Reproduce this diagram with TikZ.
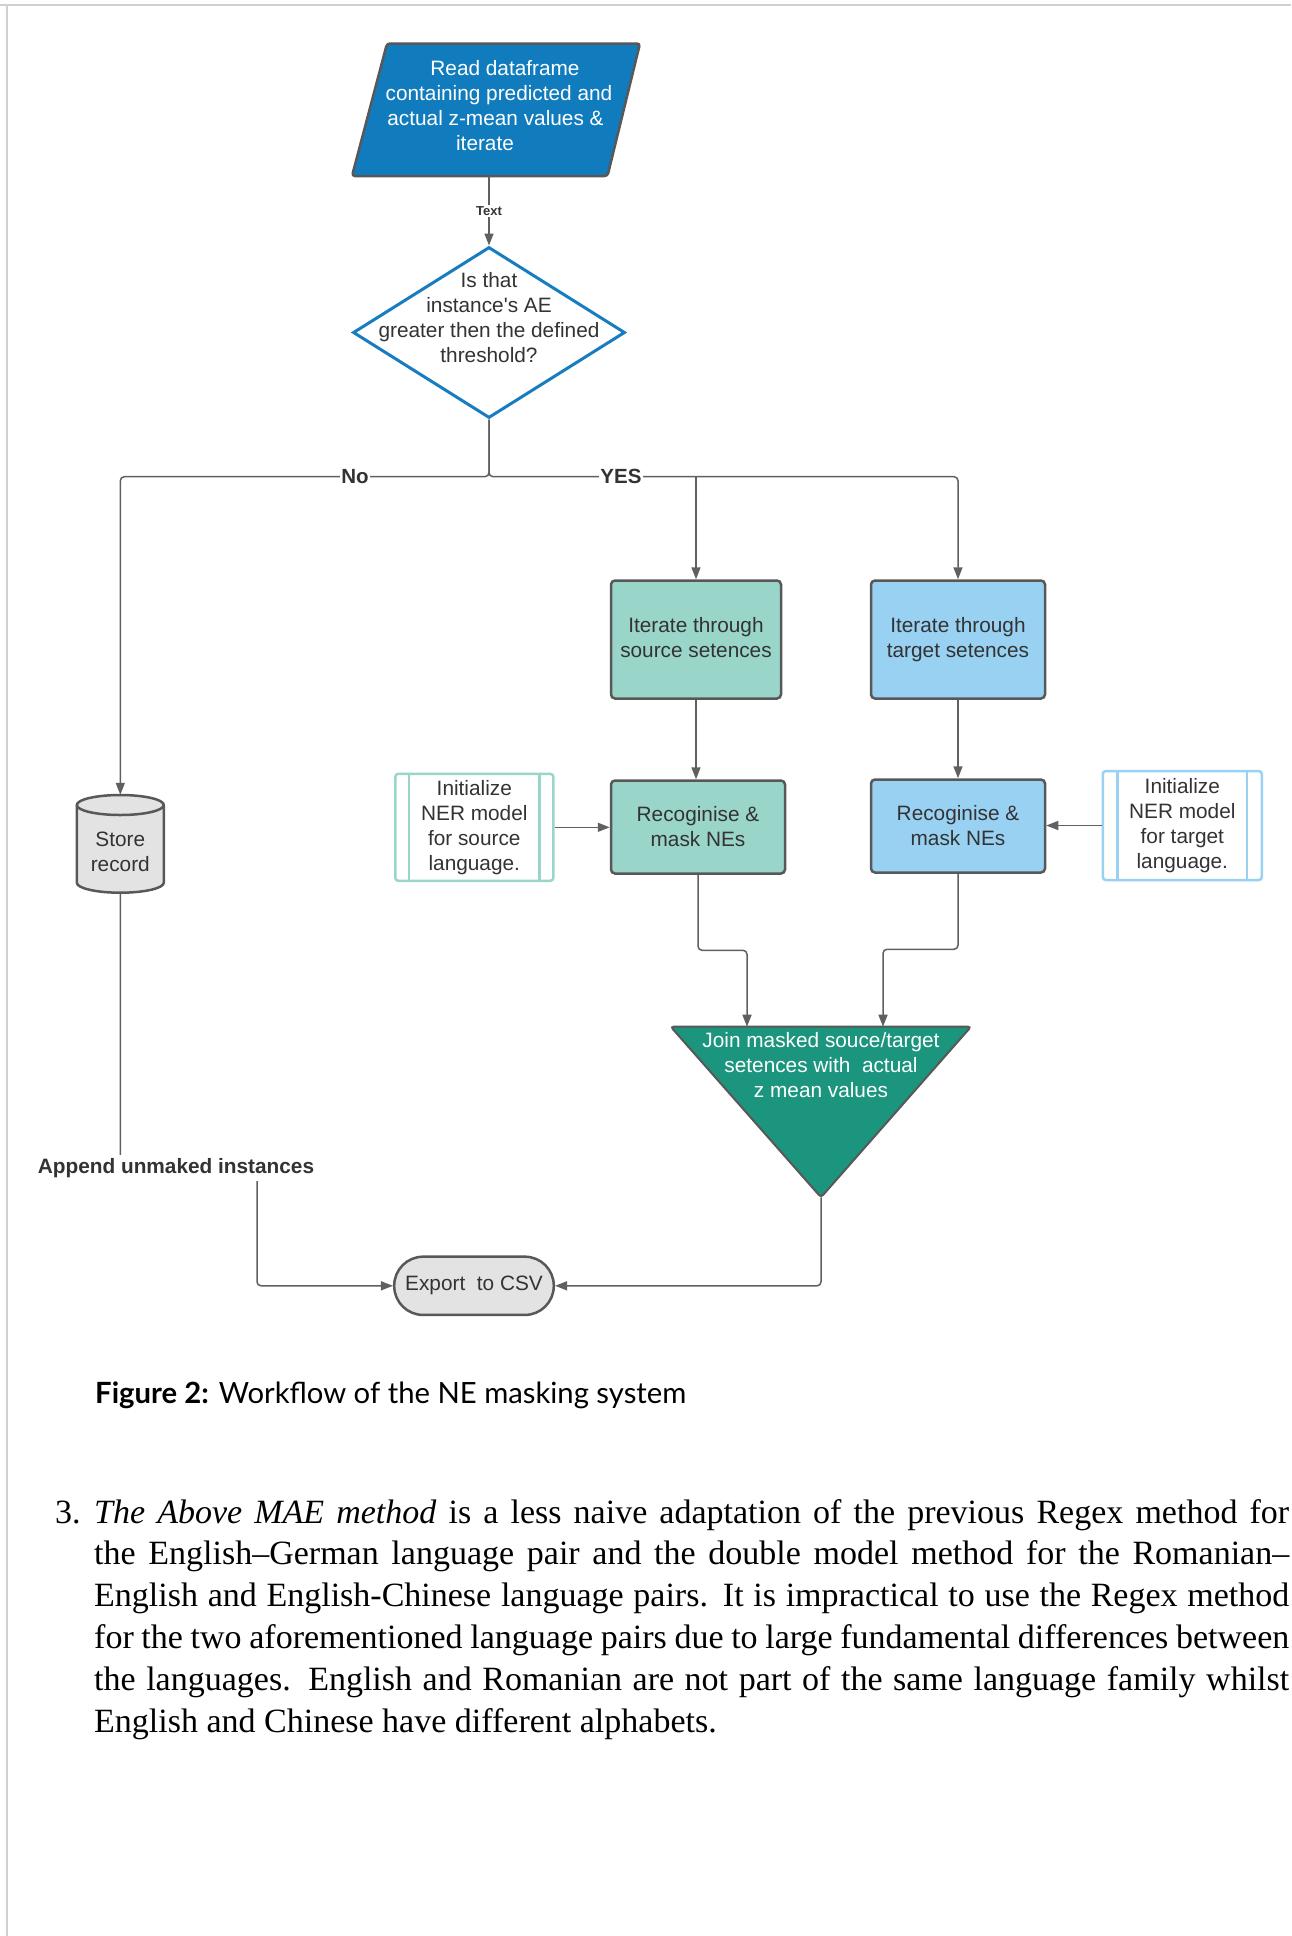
\documentclass[tikz,border=0pt]{standalone}
\usepackage{fontspec}
\usetikzlibrary{arrows.meta,shapes.geometric,calc}
\newfontfamily\diagfont{Liberation Sans}
\newfontfamily\bodyfont{Liberation Serif}
\newfontfamily\capfont{Lato}
\definecolor{readblue}{RGB}{16,124,190}
\definecolor{diablue}{RGB}{24,125,192}
\definecolor{tealL}{RGB}{154,213,202}
\definecolor{blueL}{RGB}{153,209,242}
\definecolor{joinTeal}{RGB}{27,149,125}
\definecolor{lgray}{RGB}{227,227,227}
\definecolor{bgray}{RGB}{88,88,88}
\definecolor{cgray}{RGB}{96,96,96}
\definecolor{txtgray}{RGB}{51,51,51}
\definecolor{pagegray}{RGB}{208,208,208}
\begin{document}
\begin{tikzpicture}[x=1pt,y=1pt,
  txt/.style={font=\diagfont\fontsize{20.8}{25}\selectfont, text=txtgray, align=center, inner sep=2pt},
  boxnode/.style={txt, draw=bgray, line width=2.5pt, rounded corners=4pt},
  subnode/.style={txt, fill=white, line width=2.5pt, rounded corners=3pt},
  conn/.style={draw=cgray, line width=1.5pt},
  arr/.style={conn, -{Triangle[length=12pt,width=9pt]}},
  lbl/.style={font=\diagfont\bfseries\fontsize{20.5}{24}\selectfont, text=txtgray, fill=white, inner sep=1.5pt},
  bodytxt/.style={font=\bodyfont\fontsize{34}{42}\selectfont, anchor=base west, inner sep=0pt}
]
\useasboundingbox (0,0) rectangle (1291,-1936);
\fill[white] (0,0) rectangle (1291,-1936);
\draw[pagegray, line width=1.5pt] (0,-5) -- (1291,-5);
\draw[pagegray, line width=1.5pt] (7,-5) -- (7,-1936);

% read dataframe (parallelogram)
\filldraw[fill=readblue, draw=bgray, line width=2.5pt, rounded corners=3pt]
  (387,-43.5) -- (640,-43.5) -- (607.5,-176) -- (352,-176) -- cycle;
\node[minimum width=255pt, minimum height=132.5pt, inner sep=0pt] (read) at (496,-109.75) {};
\node[txt, text=white] (readtext) at (495.5,-106) {\hspace*{19pt}Read dataframe\\\hspace*{7pt}containing predicted and\\actual z-mean values \&\hspace*{5pt}\\iterate\hspace*{21pt}};

% decision diamond
\node[diamond, draw=diablue, line width=3pt, fill=white, minimum width=272pt, minimum height=171pt, aspect=1.59, inner sep=0pt] (dec) at (489,-332.5) {};
\node[txt] (dectext) at (489,-318) {Is that\\instance\textquotesingle s AE\\greater then the defined\\threshold?};

\draw[arr] (read.south -| dec.north) -- node[font=\diagfont\bfseries\fontsize{13}{15}\selectfont, text=txtgray, fill=white, inner sep=1.5pt] (textlbl) {Text} (dec.north);

% process boxes
\node[boxnode, fill=tealL, minimum width=170pt, minimum height=118pt] (srcit) at (696,-639.5) {Iterate through\\source setences\vphantom{g}};
\node[boxnode, fill=blueL, minimum width=174pt, minimum height=118pt] (tgtit) at (958,-639.5) {Iterate through\\target setences};
\node[boxnode, fill=tealL, minimum width=174pt, minimum height=93pt] (srcrec) at (698,-827) {Recoginise \&\\mask NEs};
\node[boxnode, fill=blueL, minimum width=174pt, minimum height=93pt] (tgtrec) at (958,-826) {Recoginise \&\\mask NEs};

% subroutine boxes
\node[subnode, draw=tealL, minimum width=158pt, minimum height=107pt] (initS) at (474.3,-827.3) {Initialize\\NER model\\for source\\language.};
\draw[tealL, line width=2.5pt] ([xshift=15pt]initS.north west) -- ([xshift=15pt]initS.south west);
\draw[tealL, line width=2.5pt] ([xshift=-15pt]initS.north east) -- ([xshift=-15pt]initS.south east);
\node[subnode, draw=blueL, minimum width=159pt, minimum height=109pt] (initT) at (1182.3,-825.5) {Initialize\\NER model\\for target\\language.};
\draw[blueL, line width=2.5pt] ([xshift=16pt]initT.north west) -- ([xshift=16pt]initT.south west);
\draw[blueL, line width=2.5pt] ([xshift=-16pt]initT.north east) -- ([xshift=-16pt]initT.south east);

% store record cylinder
\node[minimum width=87pt, minimum height=97.7pt, inner sep=0pt] (store) at (120.3,-843.85) {};
\filldraw[fill=lgray, draw=bgray, line width=2.5pt]
  (76.8,-805) -- (76.8,-882.7) arc[start angle=180, end angle=360, x radius=43.5, y radius=10]
  -- (163.8,-805) arc[start angle=0, end angle=180, x radius=43.5, y radius=10] -- cycle;
\draw[bgray, line width=2.5pt] (76.8,-805) arc[start angle=180, end angle=360, x radius=43.5, y radius=10];
\node[txt] (storetext) at (120.3,-851.5) {Store\\record};

% join triangle
\coordinate (jtl) at (670.7,-1026.7);
\coordinate (jtr) at (971,-1026.7);
\coordinate (jb) at (821,-1197.3);
\filldraw[fill=joinTeal, draw=bgray, line width=2pt, rounded corners=3pt] (jtl) -- (jtr) -- (jb) -- cycle;
\node[txt, text=white] (join) at (821,-1065) {Join masked souce/target\\setences with~ actual\\z mean values};
\coordinate (jin1) at (747,-1026.7);
\coordinate (jin2) at (883,-1026.7);

% export
\node[txt, draw=bgray, fill=lgray, line width=2.5pt, rounded corners=29pt, minimum width=159.6pt, minimum height=58.3pt] (export) at (474,-1285.8) {Export~ to CSV};

% connectors
\coordinate (junc) at (489,-476.7);
\draw[arr, rounded corners=4pt] (dec.south) -- (junc) -| (store.north);
\draw[arr, rounded corners=4pt] (dec.south) -- (junc) -| (tgtit.north);
\draw[arr] (srcit.north |- junc) -- (srcit.north);
\node[lbl] (no) at (355,-476.7) {No};
\node[lbl] (yes) at (621,-476.7) {YES};

\draw[arr] (srcit.south) -- (srcit.south |- srcrec.north);
\draw[arr] (tgtit.south) -- (tgtrec.north);
\draw[arr] (initS.east) -- (initS.east -| srcrec.west);
\draw[arr] (initT.west) -- (initT.west -| tgtrec.east);

\draw[arr, rounded corners=4pt] (srcrec.south) -- ++(0,-75.5) -| (jin1);
\draw[arr, rounded corners=4pt] (tgtrec.south) -- ++(0,-75.5) -| (jin2);
\draw[arr, rounded corners=4pt] (jb) |- (export.east);

\draw[arr, rounded corners=4pt] (store.south) |- (257,-1168) |- (export.west);
\node[lbl, font=\diagfont\bfseries\fontsize{20.8}{25}\selectfont, minimum height=26pt, inner sep=1pt] (append) at (176,-1168) {Append unmaked instances};

% caption
\node[anchor=base west, inner sep=0pt] (cap) at (95,-1403) {\resizebox{591pt}{!}{\capfont\fontsize{30}{36}\selectfont\textbf{Figure 2:} Workflow of the NE masking system}};

% body text
\node[bodytxt] (num) at (55,-1523) {3.};
\node[bodytxt] (l1) at (94,-1523) {\makebox[1195pt][s]{\textit{The Above MAE method} is a less naive adaptation of the previous Regex method for}};
\node[bodytxt] (l2) at (94,-1564.8) {\makebox[1195pt][s]{the English–German language pair and the double model method for the Romanian–}};
\node[bodytxt] (l3) at (94,-1606.6) {\makebox[1195pt][s]{English and English-Chinese language pairs. It is impractical to use the Regex method}};
\node[bodytxt] (l4) at (94,-1648.4) {\makebox[1195pt][s]{for the two aforementioned language pairs due to large fundamental differences between}};
\node[bodytxt] (l5) at (94,-1690.2) {\makebox[1195pt][s]{the languages. English and Romanian are not part of the same language family whilst}};
\node[bodytxt] (l6) at (94,-1732) {English and Chinese have different alphabets.};
\end{tikzpicture}
\end{document}
